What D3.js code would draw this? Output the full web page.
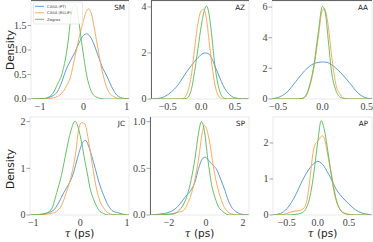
<!DOCTYPE html>
<html><head><meta charset="utf-8">
<script src="https://cdn.jsdelivr.net/npm/d3@7"></script>
<style>body{margin:0;background:#fff}svg{display:block}</style>
</head><body><svg id="c" width="373" height="242"></svg>
<script>
const seriesNames = ["CASA (PT)", "CASA (ELLIF)", "Zagros"];
const colors = ["#4a92d6", "#ffa04a", "#55bb55"];
const panelNames = ["SM", "AZ", "AA", "JC", "SP", "AP"];

// [tau, density] points
const SM_PT = [[-1.2,0],[-0.9,0.01],[-0.8,0.03],[-0.7,0.07],[-0.6,0.15],[-0.5,0.35],[-0.4,0.6],[-0.3,0.78],[-0.2,0.95],[-0.1,1.15],[0,1.3],[0.07,1.33],[0.15,1.28],[0.25,1.1],[0.35,0.85],[0.45,0.62],[0.55,0.45],[0.65,0.25],[0.75,0.1],[0.85,0.03],[0.95,0.01],[1.05,0]];
const SM_EL = [[-1.2,0],[-0.8,0.01],[-0.6,0.05],[-0.5,0.12],[-0.4,0.25],[-0.3,0.45],[-0.2,0.85],[-0.1,1.25],[0,1.6],[0.05,1.75],[0.12,1.84],[0.18,1.75],[0.25,1.45],[0.3,1.2],[0.35,0.95],[0.4,0.7],[0.45,0.5],[0.5,0.33],[0.6,0.12],[0.7,0.05],[0.8,0.01],[0.9,0],[1.05,0]];
const SM_ZA = [[-1.2,0],[-0.9,0.01],[-0.8,0.04],[-0.7,0.12],[-0.6,0.3],[-0.5,0.5],[-0.4,0.9],[-0.35,1.2],[-0.3,1.6],[-0.25,1.85],[-0.19,1.93],[-0.15,1.85],[-0.1,1.55],[-0.05,1.2],[0,0.9],[0.05,0.6],[0.1,0.38],[0.2,0.12],[0.3,0.04],[0.4,0.01],[0.5,0],[1.05,0]];

const AZ_PT = [[-0.75,0],[-0.65,0.02],[-0.55,0.1],[-0.45,0.3],[-0.35,0.6],[-0.25,1.05],[-0.15,1.45],[-0.05,1.8],[0.05,2.0],[0.1,1.98],[0.15,1.8],[0.2,1.45],[0.25,1.1],[0.3,0.75],[0.35,0.45],[0.4,0.25],[0.5,0.05],[0.6,0.01],[0.7,0]];
const AZ_EL = [[-0.75,0],[-0.35,0],[-0.28,0.02],[-0.22,0.2],[-0.15,1.0],[-0.1,2.2],[-0.05,3.3],[0,3.85],[0.03,3.9],[0.07,3.6],[0.12,2.4],[0.17,1.2],[0.22,0.4],[0.27,0.08],[0.32,0],[0.7,0]];
const AZ_ZA = [[-0.75,0],[-0.3,0],[-0.22,0.03],[-0.15,0.4],[-0.1,1.2],[-0.05,2.2],[0,3.2],[0.05,3.9],[0.075,4.04],[0.1,3.9],[0.15,2.9],[0.2,1.5],[0.25,0.6],[0.3,0.15],[0.35,0.02],[0.4,0],[0.7,0]];

const AA_PT = [[-0.6,0],[-0.5,0.1],[-0.4,0.45],[-0.3,1.15],[-0.2,1.85],[-0.1,2.3],[0,2.42],[0.05,2.4],[0.1,2.25],[0.2,1.75],[0.3,1.1],[0.4,0.4],[0.5,0.06],[0.56,0.01]];
const AA_EL = [[-0.57,0],[-0.28,0],[-0.2,0.1],[-0.15,0.7],[-0.1,1.9],[-0.05,3.9],[0,5.8],[0.02,5.9],[0.06,5.0],[0.1,3.0],[0.15,1.0],[0.2,0.3],[0.25,0.05],[0.3,0],[0.56,0]];
const AA_ZA = [[-0.57,0],[-0.3,0],[-0.22,0.05],[-0.15,0.8],[-0.1,2.1],[-0.05,4.2],[0,6.05],[0.03,5.7],[0.07,3.6],[0.1,1.9],[0.15,0.6],[0.2,0.12],[0.25,0.02],[0.3,0],[0.56,0]];

const JC_PT = [[-1.06,0],[-0.8,0.02],[-0.65,0.06],[-0.55,0.12],[-0.45,0.28],[-0.35,0.48],[-0.25,0.65],[-0.15,0.88],[-0.05,1.25],[0.05,1.55],[0.11,1.6],[0.17,1.5],[0.25,1.25],[0.32,1.0],[0.4,0.7],[0.5,0.42],[0.6,0.2],[0.7,0.08],[0.8,0.05],[0.9,0.02],[1.0,0]];
const JC_EL = [[-1.06,0],[-0.8,0.01],[-0.6,0.04],[-0.5,0.08],[-0.4,0.2],[-0.3,0.47],[-0.2,0.8],[-0.1,1.3],[-0.03,1.85],[0.03,1.98],[0.1,1.95],[0.15,1.75],[0.2,1.45],[0.27,1.0],[0.35,0.55],[0.42,0.3],[0.5,0.15],[0.6,0.04],[0.7,0.01],[0.8,0],[1.04,0]];
const JC_ZA = [[-1.06,0],[-0.85,0.01],[-0.7,0.05],[-0.6,0.15],[-0.5,0.48],[-0.4,0.85],[-0.3,1.35],[-0.2,1.8],[-0.11,2.01],[-0.05,1.9],[0,1.7],[0.05,1.45],[0.1,1.15],[0.15,0.9],[0.2,0.62],[0.3,0.3],[0.4,0.1],[0.5,0.03],[0.6,0],[1.04,0]];

const SP_PT = [[-3.0,0],[-2.5,0.01],[-2.0,0.03],[-1.7,0.06],[-1.4,0.12],[-1.1,0.2],[-0.8,0.27],[-0.6,0.35],[-0.4,0.5],[-0.2,0.6],[-0.04,0.62],[0.2,0.57],[0.4,0.53],[0.6,0.48],[0.8,0.38],[1.0,0.28],[1.2,0.16],[1.4,0.08],[1.6,0.04],[1.9,0.01],[2.3,0]];
const SP_EL = [[-3.0,0],[-2.0,0.01],[-1.5,0.03],[-1.2,0.05],[-1.0,0.12],[-0.8,0.22],[-0.6,0.38],[-0.4,0.6],[-0.2,0.88],[-0.09,0.96],[0,0.94],[0.2,0.78],[0.4,0.52],[0.6,0.32],[0.8,0.18],[1.0,0.08],[1.2,0.03],[1.4,0.01],[1.6,0],[2.3,0]];
const SP_ZA = [[-3.0,0],[-1.8,0.01],[-1.5,0.04],[-1.2,0.12],[-1.0,0.22],[-0.8,0.38],[-0.6,0.6],[-0.4,0.88],[-0.25,1.0],[-0.1,0.92],[0.1,0.6],[0.3,0.33],[0.5,0.18],[0.7,0.08],[0.9,0.04],[1.1,0.01],[1.3,0],[2.3,0]];

const AP_PT = [[-0.75,0],[-0.65,0.02],[-0.55,0.09],[-0.45,0.28],[-0.35,0.58],[-0.25,0.95],[-0.15,1.25],[-0.05,1.45],[0,1.49],[0.05,1.45],[0.1,1.35],[0.15,1.2],[0.2,1.05],[0.25,0.87],[0.3,0.7],[0.35,0.58],[0.4,0.48],[0.5,0.3],[0.6,0.15],[0.7,0.06],[0.8,0.02],[0.86,0]];
const AP_EL = [[-0.71,0],[-0.6,0],[-0.5,0.04],[-0.4,0.1],[-0.3,0.12],[-0.22,0.2],[-0.17,0.45],[-0.12,1.1],[-0.08,1.7],[-0.04,1.97],[0,2.05],[0.04,2.15],[0.07,2.2],[0.11,2.1],[0.15,1.75],[0.2,1.3],[0.25,0.85],[0.3,0.4],[0.35,0.18],[0.4,0.08],[0.5,0.02],[0.6,0],[0.86,0]];
const AP_ZA = [[-0.71,0],[-0.5,0],[-0.35,0.02],[-0.27,0.05],[-0.2,0.15],[-0.15,0.35],[-0.1,0.75],[-0.05,1.35],[0,2.05],[0.054,2.62],[0.1,2.4],[0.15,1.9],[0.2,1.3],[0.25,0.75],[0.3,0.38],[0.35,0.17],[0.4,0.07],[0.5,0.01],[0.55,0],[0.86,0]];

const panelSeries = [[SM_PT,SM_EL,SM_ZA],[AZ_PT,AZ_EL,AZ_ZA],[AA_PT,AA_EL,AA_ZA],[JC_PT,JC_EL,JC_ZA],[SP_PT,SP_EL,SP_ZA],[AP_PT,AP_EL,AP_ZA]];
const xDomains = [[-1.21,1.05],[-0.75,0.71],[-0.57,0.56],[-1.07,1.04],[-3.03,2.33],[-0.72,0.87]];
const yDomains = [[0,2.0],[0,4.26],[0,6.4],[0,2.1],[0,1.05],[0,2.72]];
const xTicks = [[-1,0,1],[-0.5,0,0.5],[-0.5,0,0.5],[-1,0,1],[-2,0,2],[-0.5,0,0.5]];
const xTickLabels = [["−1","0","1"],["−0.5","0.0","0.5"],["−0.5","0.0","0.5"],["−1","0","1"],["−2","0","2"],["−0.5","0.0","0.5"]];
const yTicks = [[0,0.5,1,1.5],[0,2,4],[0,2,4,6],[0,1,2],[0,0.5,1],[0,1,2]];
const yTickLabels = [["0.0","0.5","1.0","1.5"],["0","2","4"],["0","2","4","6"],["0","1","2"],["0.0","0.5","1.0"],["0","1","2"]];

const svg = d3.select("#c");
const lefts = [[31,151,272],[30,150,273]];
const rights = [[129,249,372],[129,249,372]];
const tops = [1,117], bottoms = [99,215];
const densityY = [50,169];
const darkLeft = [false,true,false,false,true,false];
const serif = "Liberation Serif, DejaVu Serif, serif";

panelNames.forEach((name,i)=>{
  const r = Math.floor(i/3), c = i%3;
  const x0 = lefts[r][c], x1 = rights[r][c], y0 = tops[r], y1 = bottoms[r];
  const x = d3.scaleLinear().domain(xDomains[i]).range([x0,x1]);
  const y = d3.scaleLinear().domain(yDomains[i]).range([y1,y0]);
  const g = svg.append("g");
  g.append("rect").attr("x",x0).attr("y",y0).attr("width",x1-x0).attr("height",y1-y0)
    .attr("fill","#fff").attr("stroke","#e3e3e3").attr("stroke-width",0.8);
  if (r===0) g.append("line").attr("x1",x0).attr("x2",x1).attr("y1",0.5).attr("y2",0.5).attr("stroke","#666").attr("stroke-width",1);
  if (darkLeft[i]) g.append("line").attr("x1",x0+0.5).attr("x2",x0+0.5).attr("y1",y0).attr("y2",y1).attr("stroke","#666").attr("stroke-width",1);

  const line = d3.line().x(d=>x(d[0])).y(d=>y(d[1])).curve(d3.curveMonotoneX);
  const clip = "clip"+i;
  g.append("clipPath").attr("id",clip).append("rect").attr("x",x0).attr("y",y0-2).attr("width",x1-x0).attr("height",y1-y0+2);
  panelSeries[i].forEach((s,k)=>{
    g.append("path").datum(s).attr("d",line).attr("fill","none")
      .attr("stroke",colors[k]).attr("stroke-width",0.9).attr("clip-path",`url(#${clip})`);
  });

  yTicks[i].forEach((t,k)=>{
    g.append("line").attr("x1",x0-3.5).attr("x2",x0).attr("y1",y(t)).attr("y2",y(t)).attr("stroke","#666").attr("stroke-width",0.6);
    g.append("text").attr("x",x0-4.5).attr("y",y(t)).attr("dy","0.33em").attr("text-anchor","end")
      .attr("font-family",serif).attr("font-size",10).attr("fill","#444").text(yTickLabels[i][k]);
  });
  xTicks[i].forEach((t,k)=>{
    g.append("text").attr("x",x(t)).attr("y",y1+11).attr("text-anchor","middle")
      .attr("font-family",serif).attr("font-size",10).attr("fill","#444").text(xTickLabels[i][k]);
  });
  g.append("text").attr("x",x1-4).attr("y",y0+9).attr("text-anchor","end")
    .attr("font-family","DejaVu Sans, sans-serif").attr("font-size",7.2).attr("fill","#222").text(name);

  if (c===0) {
    g.append("text").attr("transform",`translate(13.5,${densityY[r]}) rotate(-90)`).attr("text-anchor","middle")
      .attr("font-family","DejaVu Sans, sans-serif").attr("font-size",10.5).attr("fill","#222").text("Density");
  }
  if (r===1) {
    const t = g.append("text").attr("x",(x0+x1)/2).attr("y",237).attr("text-anchor","middle")
      .attr("font-size",10.5).attr("fill","#222");
    t.append("tspan").attr("font-family","DejaVu Serif, serif").attr("font-style","italic").text("τ");
    t.append("tspan").attr("font-family","DejaVu Sans, sans-serif").text(" (ps)");
  }
});

const lg = svg.append("g");
lg.append("rect").attr("x",33.5).attr("y",2).attr("width",49).attr("height",22).attr("rx",1.5)
  .attr("fill","#fff").attr("fill-opacity",0.85).attr("stroke","#ddd").attr("stroke-width",0.6);
seriesNames.forEach((n,k)=>{
  const yy = 6.3 + k*6.5;
  lg.append("line").attr("x1",35).attr("x2",44).attr("y1",yy).attr("y2",yy).attr("stroke",colors[k]).attr("stroke-width",0.9);
  lg.append("text").attr("x",47).attr("y",yy).attr("dy","0.35em").attr("font-family","DejaVu Sans, sans-serif")
    .attr("font-size",3.8).attr("fill","#333").text(n);
});
</script></body></html>
